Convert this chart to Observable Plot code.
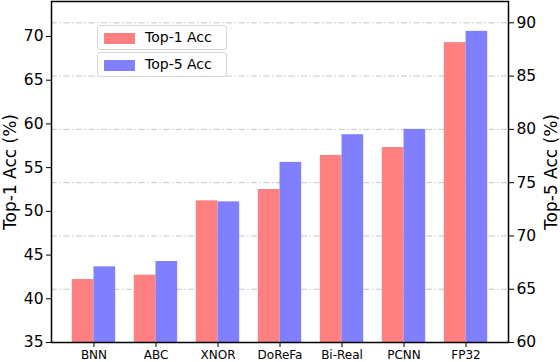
<!DOCTYPE html>
<html>
<head>
<meta charset="utf-8">
<script src="https://cdn.jsdelivr.net/npm/d3@7"></script>
<script src="https://cdn.jsdelivr.net/npm/@observablehq/plot@0.6"></script>
<style>
  html, body { margin: 0; padding: 0; background: #fff; }
  #wrap { position: relative; width: 560px; height: 362px; font-family: "DejaVu Sans", sans-serif; }
  .leg { position: absolute; left: 97px; width: 130px; height: 25px; box-sizing: border-box;
         border: 1px solid #d6d6d6; border-radius: 3px; background: rgba(255,255,255,0.8);
         font-size: 14px; color: #000; }
  .leg .sw { position: absolute; left: 6px; top: 7px; width: 31px; height: 11px; }
  .leg .tx { position: absolute; left: 47px; top: 3px; white-space: nowrap; }
  .ttl { position: absolute; font-size: 17px; line-height: 1; white-space: nowrap; color: #000;
         transform: translate(-50%, -50%) rotate(-90deg); }
</style>
</head>
<body>
<div id="wrap"></div>
<script>
const categories = ["BNN", "ABC", "XNOR", "DoReFa", "Bi-Real", "PCNN", "FP32"];
const top1 = [42.2, 42.7, 51.2, 52.5, 56.4, 57.3, 69.3];
const top5 = [67.1, 67.6, 73.2, 76.9, 79.5, 80.0, 89.2];
const leftTicks = [35, 40, 45, 50, 55, 60, 65, 70];
const rightTicks = [60, 65, 70, 75, 80, 85, 90];
const seriesNames = ["Top-1 Acc", "Top-5 Acc"];
const axisTitles = ["Top-1 Acc (%)", "Top-5 Acc (%)"];
const colors = ["#ff8080", "#8080ff"];

const leftDomain = [35, 74];
const rightDomain = [60, 92];
// map a right-axis value onto the left-axis scale
const toLeft = r => leftDomain[0] + (r - rightDomain[0]) * (leftDomain[1] - leftDomain[0]) / (rightDomain[1] - rightDomain[0]);
const toRight = l => rightDomain[0] + (l - leftDomain[0]) * (rightDomain[1] - rightDomain[0]) / (leftDomain[1] - leftDomain[0]);

const w = 0.35;
const rows = categories.map((c, i) => ({i, c, t1: top1[i], t5: toLeft(top5[i])}));

const chart = Plot.plot({
  width: 560,
  height: 362,
  marginTop: 1,
  marginBottom: 20,
  marginLeft: 51,
  marginRight: 52,
  style: {fontFamily: "DejaVu Sans, sans-serif", color: "#000", background: "#fff"},
  x: {domain: [-0.685, 6.685]},
  y: {domain: leftDomain},
  marks: [
    Plot.ruleY(rightTicks.slice(1).map(toLeft), {stroke: "#c4c4c4", strokeWidth: 1, strokeDasharray: "6,2.5,1.5,2.5"}),
    Plot.rect(rows, {x1: d => d.i - w, x2: d => d.i, y1: leftDomain[0], y2: "t1", fill: colors[0]}),
    Plot.rect(rows, {x1: d => d.i, x2: d => d.i + w, y1: leftDomain[0], y2: "t5", fill: colors[1]}),
    Plot.axisX({ticks: categories.map((c, i) => i), tickFormat: i => categories[i], tickSize: 5, tickPadding: 3, fontSize: 12, label: null}),
    Plot.axisY({anchor: "left", ticks: leftTicks, tickSize: 5, tickPadding: 3, fontSize: 15.5, label: null}),
    Plot.axisY({anchor: "right", ticks: rightTicks.map(toLeft), tickFormat: v => Math.round(toRight(v)), tickSize: 5, tickPadding: 3, fontSize: 15.5, label: null}),
    Plot.frame({stroke: "#000", strokeWidth: 1.5})
  ]
});

const wrap = document.getElementById("wrap");
wrap.appendChild(chart);
seriesNames.forEach((name, k) => {
  const d = document.createElement("div");
  d.className = "leg";
  d.style.top = (25 + k * 27) + "px";
  d.innerHTML = `<div class="sw" style="background:${colors[k]}"></div><div class="tx">${name}</div>`;
  wrap.appendChild(d);
});
[[axisTitles[0], 10], [axisTitles[1], 551]].forEach(([t, cx]) => {
  const d = document.createElement("div");
  d.className = "ttl";
  d.style.left = cx + "px";
  d.style.top = "171.5px";
  d.textContent = t;
  wrap.appendChild(d);
});
</script>
</body>
</html>
